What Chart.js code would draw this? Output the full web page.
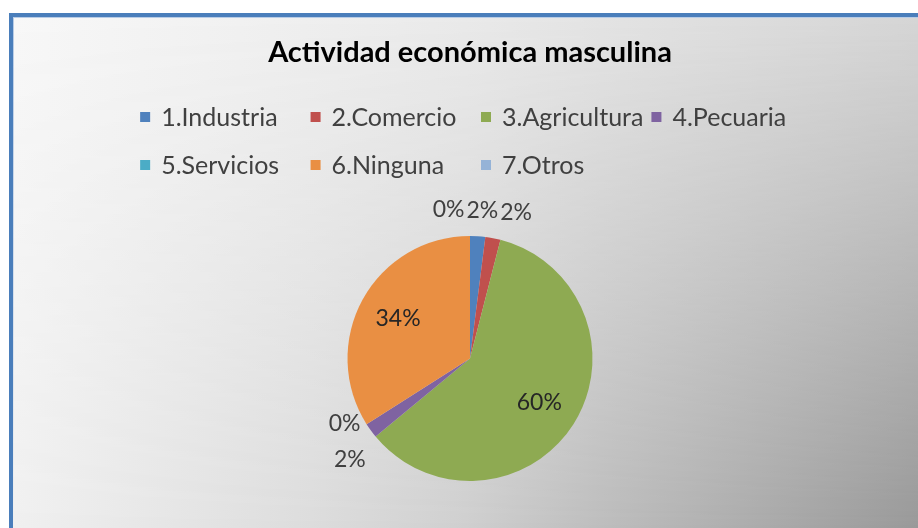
<!DOCTYPE html>
<html>
<head>
<meta charset="utf-8">
<title>Actividad económica masculina</title>
<script src="https://cdn.jsdelivr.net/npm/chart.js@4"></script>
<style>
    html, body { margin: 0; background: #fff; }
    #frame {
        position: absolute; left: 9px; top: 13px; width: 909px; height: 515px;
        box-sizing: border-box;
        border-left: 4px solid #4a7ebb; border-top: 4px solid #4a7ebb;
        box-shadow: inset 1px 1px 0 #b8cce6;
        background: linear-gradient(to right, #f8f8f8 0%, #eaeaea 50%, #d6d6d6 100%);
        overflow: hidden;
    }
    #frame::after {
        content: ""; position: absolute; left: 0; top: 0; right: 0; bottom: 0;
        background: linear-gradient(to right, #f0f0f0 0%, #dcdcdc 33%, #cfcfcf 50%, #bdbdbd 65%, #999999 100%);
        -webkit-mask-image: linear-gradient(to bottom, transparent, #000);
        mask-image: linear-gradient(to bottom, transparent, #000);
    }
    #chart { position: absolute; left: 0; top: 0; }
</style>
</head>
<body>
<div id="frame"></div>
<canvas id="chart" width="918" height="528"></canvas>
<script>
const title = "Actividad económica masculina";
const categories = ["1.Industria", "2.Comercio", "3.Agricultura", "4.Pecuaria", "5.Servicios", "6.Ninguna", "7.Otros"];
const shares = [2, 2, 60, 2, 0, 34, 0];

const colors = ["#4f81bd", "#c0504d", "#8eaa52", "#7f63a1", "#4bacc6", "#e98f43", "#95b3d7"];

// legend drawn as an Excel-like grid of 4 columns
const gridLegend = {
    id: "gridLegend",
    afterDraw(chart) {
        const ctx = chart.ctx;
        const cols = 4, box = 10, textGap = 11, colGap = 8;
        const rowY = [117, 165];
        ctx.save();
        ctx.font = "25px Lato";
        ctx.textBaseline = "middle";
        const maxW = Math.max(...categories.map(c => ctx.measureText(c).width));
        const colW = box + textGap + maxW + colGap;
        const cx = (chart.chartArea.left + chart.chartArea.right) / 2 + 7;
        const x0 = cx - (cols * colW - colGap) / 2;
        categories.forEach((c, i) => {
            const x = x0 + (i % cols) * colW;
            const y = rowY[Math.floor(i / cols)];
            ctx.fillStyle = colors[i];
            ctx.fillRect(x, y - box / 2, box, box);
            ctx.fillStyle = "#404040";
            ctx.fillText(c, x + box + textGap, y + 1);
        });
        ctx.restore();
    }
};

// percentage labels: large slices inside, small ones outside, pushed apart
const sliceLabels = {
    id: "sliceLabels",
    afterDatasetsDraw(chart) {
        const ctx = chart.ctx;
        const meta = chart.getDatasetMeta(0);
        const total = shares.reduce((a, b) => a + b, 0);
        ctx.save();
        ctx.font = "23px Lato";
        ctx.textAlign = "center";
        ctx.textBaseline = "middle";
        const labels = [];
        meta.data.forEach((arc, i) => {
            const p = arc.getProps(["x", "y", "startAngle", "endAngle", "outerRadius"], true);
            const mid = (p.startAngle + p.endAngle) / 2;
            const share = shares[i] / total;
            const text = Math.round(share * 100) + "%";
            const ax = Math.cos(mid), ay = Math.sin(mid);
            if (share >= 0.1) {
                labels.push({ text, x: p.x + ax * p.outerRadius * 0.67, y: p.y + ay * p.outerRadius * 0.67, fixed: true });
            } else {
                const d = p.outerRadius + 26;
                labels.push({ text, x: p.x + ax * d, y: p.y + ay * d, ax, ay, w: ctx.measureText(text).width, h: 36 });
            }
        });
        const out = labels.filter(l => !l.fixed);
        for (let it = 0; it < 200; it++) {
            let moved = false;
            for (let a = 0; a < out.length; a++) {
                for (let b = a + 1; b < out.length; b++) {
                    const p = out[a], q = out[b];
                    const ox = (p.w + q.w) / 2 + 2 - Math.abs(p.x - q.x);
                    const oy = (p.h + q.h) / 2 - Math.abs(p.y - q.y);
                    if (ox > 0.01 && oy > 0.01) {
                        if (Math.abs(p.ay + q.ay) > Math.abs(p.ax + q.ax)) {
                            const s = p.x <= q.x ? -1 : 1;
                            p.x += s * ox / 2; q.x -= s * ox / 2;
                        } else {
                            const s = p.y <= q.y ? -1 : 1;
                            p.y += s * oy / 2; q.y -= s * oy / 2;
                        }
                        moved = true;
                    }
                }
            }
            if (!moved) break;
        }
        labels.forEach(l => {
            ctx.fillStyle = l.fixed ? "#262626" : "#404040";
            ctx.fillText(l.text, l.x, l.y);
        });
        ctx.restore();
    }
};

new Chart(document.getElementById("chart"), {
    type: "pie",
    data: {
        labels: categories,
        datasets: [{
            data: shares,
            backgroundColor: colors,
            borderWidth: 0,
            hoverOffset: 0
        }]
    },
    options: {
        responsive: false,
        animation: false,
        layout: { padding: { left: 22, right: 0, top: 0, bottom: 47 } },
        plugins: {
            legend: { display: false },
            tooltip: { enabled: false },
            title: {
                display: true,
                text: title,
                color: "#000",
                font: { family: "Lato", size: 29, weight: "bold", lineHeight: 1.2 },
                padding: { top: 35, bottom: 166.2 }
            }
        }
    },
    plugins: [gridLegend, sliceLabels]
});
</script>
</body>
</html>
